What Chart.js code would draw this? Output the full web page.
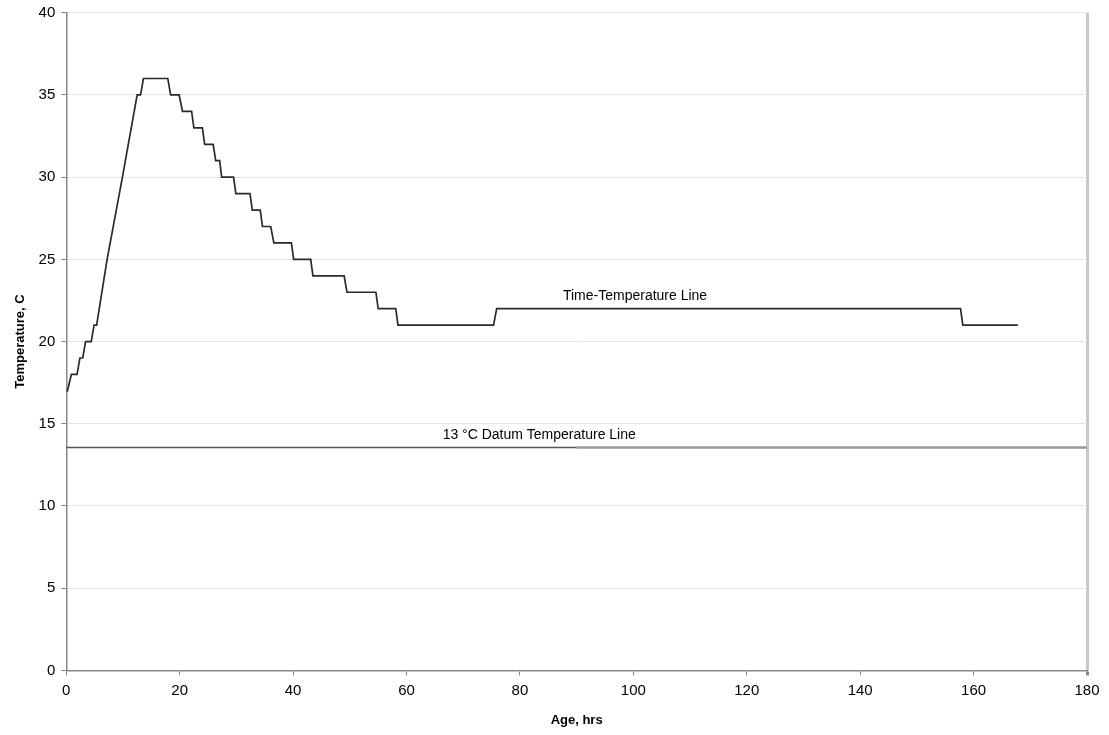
<!DOCTYPE html>
<html>
<head>
<meta charset="utf-8">
<script src="https://cdn.jsdelivr.net/npm/chart.js@4"></script>
<style>
  body { margin: 0; background: #fff; }
  #wrap { width: 1109px; height: 735px; }
</style>
</head>
<body>
<div id="wrap"><canvas id="tempChart"></canvas></div>
<script>
// time-temperature trace (corners of each step)
const ageHrs = [0, 0.2, 0.9, 1.9, 2.4, 2.9, 3.4, 4.4, 4.9, 5.35, 7.2, 9.9, 12.5, 13.1, 13.6,
  17.9, 18.4, 19.9, 20.5, 22.1, 22.5, 24.0, 24.4, 25.9, 26.35, 27.05, 27.4, 29.5, 29.9,
  32.4, 32.8, 34.2, 34.6, 36.05, 36.6, 39.7, 40.1, 43.1, 43.5, 49.0, 49.5, 54.6, 55.0,
  58.1, 58.5, 75.35, 75.9, 157.7, 158.1, 167.8];
const tempC = [17, 17, 18, 18, 19, 19, 20, 20, 21, 21, 25, 30, 35, 35, 36,
  36, 35, 35, 34, 34, 33, 33, 32, 32, 31, 31, 30, 30, 29,
  29, 28, 28, 27, 27, 26, 26, 25, 25, 24, 24, 23, 23, 22,
  22, 21, 21, 22, 22, 21, 21];

// datum line (drawn a little above 13 in the original)
const datumHrs = [0, 90, 180];
const datumTemp = [13.55, 13.55, 13.55];

const xTicks = [0, 20, 40, 60, 80, 100, 120, 140, 160, 180];
const yTicks = [0, 5, 10, 15, 20, 25, 30, 35, 40];

const notes = [
  { text: 'Time-Temperature Line', x: 100.3, y: 22.75 },
  { text: '13 \u00B0C Datum Temperature Line', x: 83.4, y: 14.3 }
];

const font = 'Liberation Sans, Arial, Helvetica, sans-serif';

// writes the two labels onto the plot at data positions
const notePlugin = {
  id: 'notes',
  afterDatasetsDraw(chart) {
    const ctx = chart.ctx;
    const xs = chart.scales.x, ys = chart.scales.y;
    ctx.save();
    ctx.font = '14px ' + font;
    ctx.fillStyle = '#000';
    ctx.textAlign = 'center';
    ctx.textBaseline = 'middle';
    notes.forEach(n => {
      ctx.fillText(n.text, xs.getPixelForValue(n.x), ys.getPixelForValue(n.y));
    });
    ctx.restore();
  }
};

new Chart(document.getElementById('tempChart'), {
  type: 'line',
  data: {
    datasets: [
      {
        label: 'Time-Temperature Line',
        data: ageHrs.map((h, i) => ({ x: h, y: tempC[i] })),
        borderColor: '#2a2a2a',
        borderWidth: 1.7,
        pointRadius: 0,
        tension: 0
      },
      {
        label: 'Datum',
        data: datumHrs.map((h, i) => ({ x: h, y: datumTemp[i] })),
        borderColor: '#555',
        borderWidth: 1.5,
        pointRadius: 0,
        segment: {
          borderColor: c => c.p0.parsed.x < 90 ? '#555' : '#999',
          borderWidth: c => c.p0.parsed.x < 90 ? 1.5 : 2.5
        }
      }
    ]
  },
  options: {
    responsive: true,
    maintainAspectRatio: false,
    animation: false,
    layout: { padding: { top: 0, right: 22, left: 9, bottom: 3 } },
    plugins: {
      legend: { display: false },
      tooltip: { enabled: false }
    },
    scales: {
      x: {
        type: 'linear',
        min: 0,
        max: 180,
        afterBuildTicks: s => { s.ticks = xTicks.map(v => ({ value: v })); },
        grid: {
          drawOnChartArea: true,
          color: c => c.tick && c.tick.value === 180 ? '#c8c8c8' : 'rgba(0,0,0,0)',
          lineWidth: c => c.tick && c.tick.value === 180 ? 3 : 1,
          tickColor: '#888',
          tickLength: 5
        },
        border: { color: '#888', width: 1.5 },
        ticks: { color: '#000', font: { size: 15, family: font }, padding: 6 },
        title: {
          display: true,
          text: 'Age, hrs',
          color: '#000',
          font: { size: 13, weight: 'bold', family: font },
          padding: { top: 7 }
        }
      },
      y: {
        min: 0,
        max: 40,
        afterBuildTicks: s => { s.ticks = yTicks.map(v => ({ value: v })); },
        grid: { color: '#e4e4e4', lineWidth: 1, tickColor: '#888', tickLength: 5 },
        border: { color: '#888', width: 1.5 },
        ticks: { color: '#000', font: { size: 15, family: font, lineHeight: 0.9 }, padding: 6 },
        title: {
          display: true,
          text: 'Temperature, C',
          color: '#000',
          font: { size: 13, weight: 'bold', family: font },
          padding: { bottom: 4 }
        }
      }
    }
  },
  plugins: [notePlugin]
});
</script>
</body>
</html>
